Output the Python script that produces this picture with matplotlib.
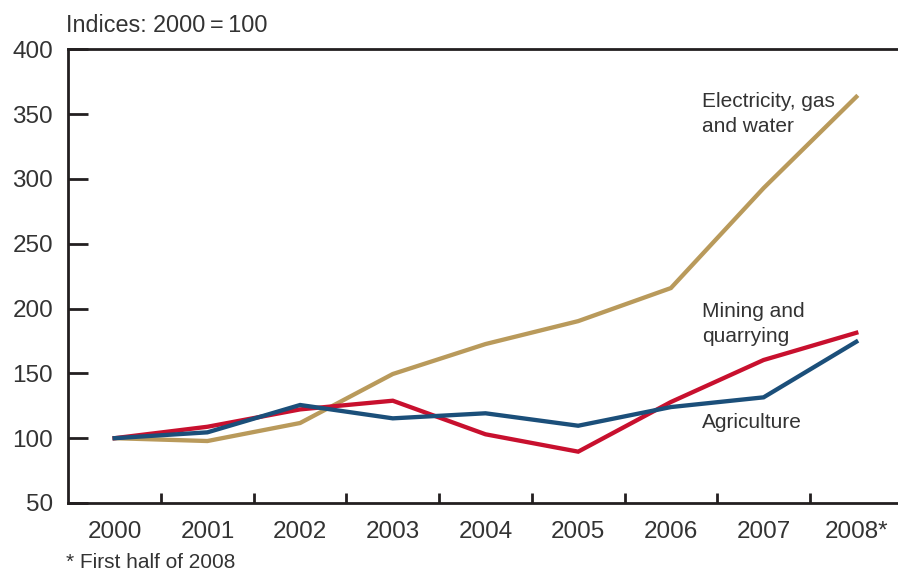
import matplotlib
matplotlib.use("Agg")
import matplotlib.pyplot as plt

years = ["2000", "2001", "2002", "2003", "2004", "2005", "2006", "2007", "2008*"]
electricity = [100, 97.8, 111.7, 149.5, 172.6, 190.3, 215.8, 292.9, 363.3]
mining = [100, 108.8, 122.2, 128.9, 103.0, 89.6, 127.9, 160.3, 181.3]
agriculture = [100, 104.5, 125.6, 115.3, 119.2, 109.6, 124.0, 131.5, 174.4]

plt.rcParams['font.family'] = ['Liberation Sans', 'DejaVu Sans']
txt = '#333333'

fig = plt.figure(figsize=(8.98, 5.71), dpi=100)
ax = fig.add_axes([0.0761, 0.1191, 0.9239, 0.7946])

x = list(range(len(years)))
ax.plot(x, electricity, color='#b99a5b', lw=3.1, solid_joinstyle='miter', zorder=3)
ax.plot(x, mining, color='#c8102e', lw=3.1, solid_joinstyle='miter', zorder=4)
ax.plot(x, agriculture, color='#1b4f7a', lw=3.1, solid_joinstyle='miter', zorder=5)

ax.set_xlim(-0.5, 8.45)
ax.set_ylim(50, 400)

# spines: left, top, bottom only
for side in ['left', 'top', 'bottom']:
    ax.spines[side].set_color('#231f20')
    ax.spines[side].set_linewidth(2)
ax.spines['right'].set_visible(False)

ax.set_yticks([50, 100, 150, 200, 250, 300, 350, 400])
ax.tick_params(axis='y', direction='in', length=14.4, width=2, color='#231f20',
               labelsize=17.5, labelcolor=txt, pad=11)

ax.set_xticks(x)
ax.set_xticklabels(years)
ax.set_xticks([i + 0.5 for i in range(len(years) - 1)], minor=True)
ax.tick_params(axis='x', which='major', length=0, labelsize=17.5, labelcolor=txt, pad=13)
ax.tick_params(axis='x', which='minor', direction='in', length=7.2, width=2, color='#231f20')

ax.text(6.336, 350, "Electricity, gas\nand water", fontsize=15, color=txt,
        va='center', ha='left', linespacing=1.45)
ax.text(6.336, 188, "Mining and\nquarrying", fontsize=15, color=txt,
        va='center', ha='left', linespacing=1.45)
ax.text(6.336, 112, "Agriculture", fontsize=15, color=txt, va='center', ha='left')

fig.text(66 / 898, 1 - 25 / 571, "Indices: 2000\u2009=\u2009100", fontsize=16.8, color=txt,
         va='center', ha='left')
fig.text(66 / 898, 1 - 563 / 571, "* First half of 2008", fontsize=15, color=txt,
         va='center', ha='left')

fig.savefig("out.png", dpi=100)
